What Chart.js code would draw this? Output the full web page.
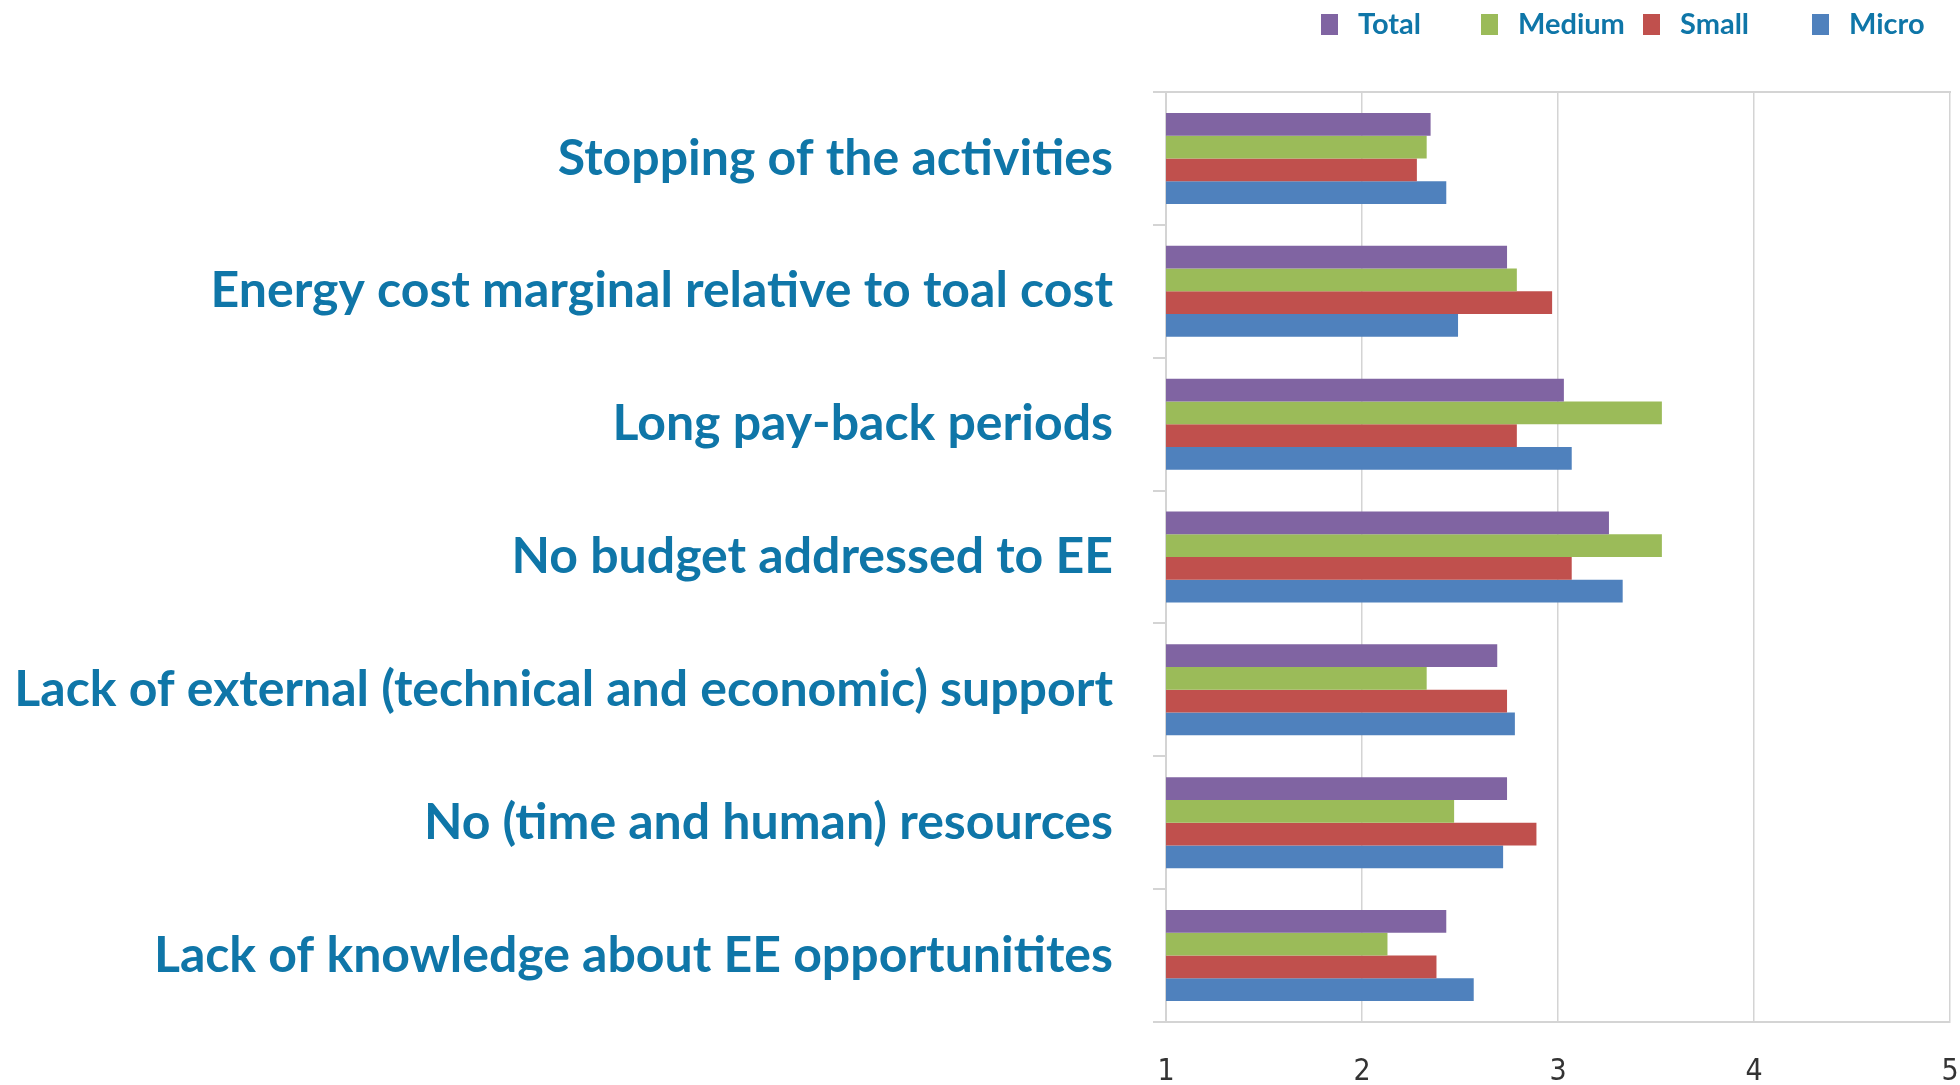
<!DOCTYPE html>
<html>
<head>
<meta charset="utf-8">
<script src="https://cdn.jsdelivr.net/npm/chart.js@4/dist/chart.umd.min.js"></script>
<style>
  html, body { margin: 0; padding: 0; background: #fff; overflow: hidden; }
  #wrap { width: 1960px; height: 1085px; }
  canvas { display: block; }
</style>
</head>
<body>
<div id="wrap"><canvas id="chartBarreras" width="1960" height="1085"></canvas></div>
<script>
const categorias = [
    'Stopping of the activities',
    'Energy cost marginal relative to toal cost',
    'Long pay-back periods',
    'No budget addressed to EE',
    'Lack of external (technical and economic) support',
    'No (time and human) resources',
    'Lack of knowledge about EE opportunitites'
];

const total  = [2.35, 2.74, 3.03, 3.26, 2.69, 2.74, 2.43];
const medium = [2.33, 2.79, 3.53, 3.53, 2.33, 2.47, 2.13];
const small  = [2.28, 2.97, 2.79, 3.07, 2.74, 2.89, 2.38];
const micro  = [2.43, 2.49, 3.07, 3.33, 2.78, 2.72, 2.57];

const ticksX = [1, 2, 3, 4, 5];

const azulTexto = '#0f76a8';

// leyenda dibujada a mano, en las posiciones del original
const leyendaX = [1321, 1481, 1643, 1812];
const leyendaPlugin = {
    id: 'leyenda',
    afterDraw(chart) {
        const ctx = chart.ctx;
        ctx.save();
        ctx.font = 'bold 29px Lato, "Open Sans", sans-serif';
        ctx.textBaseline = 'middle';
        chart.data.datasets.forEach((ds, i) => {
            const x = leyendaX[i];
            ctx.fillStyle = ds.backgroundColor;
            ctx.fillRect(x, 14, 17, 21);
            ctx.fillStyle = azulTexto;
            ctx.fillText(ds.label, x + 37, 25);
        });
        ctx.restore();
    }
};

const sinPadding = (scale) => {
    scale.paddingLeft = 0;
    scale.paddingRight = 0;
    scale.paddingTop = 0;
    scale.paddingBottom = 0;
};

const canvas = document.getElementById('chartBarreras');
const ctx = canvas.getContext('2d');

const data = {
    labels: categorias,
    datasets: [
        { label: 'Total',  data: total,  backgroundColor: '#8064a2' },
        { label: 'Medium', data: medium, backgroundColor: '#9bbb59' },
        { label: 'Small',  data: small,  backgroundColor: '#c0504d' },
        { label: 'Micro',  data: micro,  backgroundColor: '#4f81bd' }
    ]
};

const chart = new Chart(ctx, {
    type: 'bar',
    data: data,
    options: {
        indexAxis: 'y',
        responsive: false,
        animation: false,
        layout: { padding: { top: 92, right: 10, left: 0, bottom: 0 } },
        datasets: {
            bar: { categoryPercentage: 0.685, barPercentage: 1.0 }
        },
        plugins: {
            legend: { display: false },
            tooltip: { enabled: false }
        },
        scales: {
            x: {
                min: 1,
                max: 5,
                afterBuildTicks: (scale) => { scale.ticks = ticksX.map(v => ({ value: v })); },
                grid: { color: '#d4d4d4', lineWidth: 1.5, drawTicks: false },
                border: { color: '#d4d4d4', width: 2 },
                ticks: {
                    padding: 32,
                    color: '#333',
                    font: { family: '"Liberation Sans Narrow", "DejaVu Sans Condensed", sans-serif', size: 30 }
                },
                afterFit: (scale) => { scale.height = 63; sinPadding(scale); }
            },
            xTop: {
                position: 'top',
                min: 1,
                max: 5,
                grid: { drawOnChartArea: false, drawTicks: false },
                border: { color: '#d4d4d4', width: 2 },
                ticks: { display: false },
                afterFit: (scale) => { scale.height = 0; sinPadding(scale); }
            },
            y: {
                grid: {
                    offset: true,
                    drawOnChartArea: false,
                    drawTicks: true,
                    tickLength: 13,
                    color: '#d4d4d4',
                    lineWidth: 2
                },
                border: { color: '#d4d4d4', width: 2 },
                ticks: {
                    padding: 40,
                    color: azulTexto,
                    font: { family: 'Lato, "Open Sans", sans-serif', size: 50, weight: 'bold' }
                },
                afterFit: (scale) => { scale.width = 1166; sinPadding(scale); }
            }
        }
    },
    plugins: [leyendaPlugin]
});
</script>
</body>
</html>
